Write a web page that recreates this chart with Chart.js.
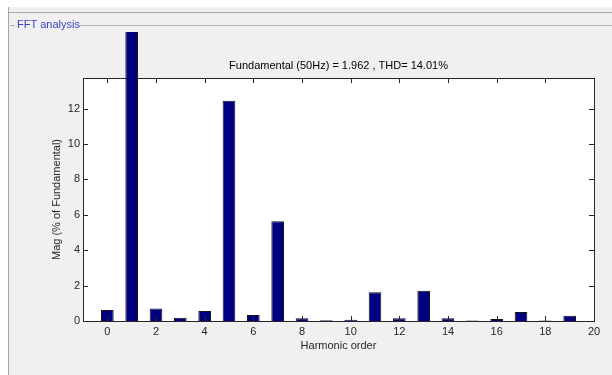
<!DOCTYPE html>
<html>
<head>
<meta charset="utf-8">
<script src="https://cdn.jsdelivr.net/npm/chart.js@4.4.1/dist/chart.umd.min.js"></script>
<style>
  html, body { margin: 0; padding: 0; background: #f0f0f0; }
  #wrap { width: 612px; height: 375px; position: relative; }
</style>
</head>
<body>
<div id="wrap"><canvas id="fft" width="612" height="375"></canvas></div>
<script>
// Harmonic spectrum, magnitudes in % of the fundamental
const harmonicOrder = [0, 1, 2, 3, 4, 5, 6, 7, 8, 9, 10, 11, 12, 13, 14, 15, 16, 17, 18, 19];
const magnitudePct  = [0.62, 100, 0.71, 0.19, 0.56, 12.45, 0.34, 5.63, 0.15, 0.04,
                       0.07, 1.62, 0.15, 1.71, 0.15, 0.03, 0.11, 0.51, 0.03, 0.30];
const xTickValues = [0, 2, 4, 6, 8, 10, 12, 14, 16, 18, 20];
const yTickValues = [0, 2, 4, 6, 8, 10, 12];
const fundamentalHz = 50;
const fundamentalMag = 1.962;
const thdPct = 14.01;

const titleText = 'Fundamental (' + fundamentalHz + 'Hz) = ' + fundamentalMag.toFixed(3) +
                  ' , THD= ' + thdPct.toFixed(2) + '%';

const FONT = '"Liberation Sans", Arial, Helvetica, sans-serif';
const AXIS_COLOR = '#262626';

// Window chrome: panel background, frame lines and the group-box caption
const panelChrome = {
  id: 'panelChrome',
  beforeDraw(chart) {
    const ctx = chart.ctx;
    ctx.save();
    ctx.fillStyle = '#ffffff';
    ctx.fillRect(0, 0, chart.width, chart.height);
    ctx.fillStyle = '#f0f0f0';
    ctx.fillRect(8, 7, chart.width - 8, chart.height - 7);
    ctx.strokeStyle = '#a8a8a8';
    ctx.lineWidth = 1;
    ctx.beginPath();
    ctx.moveTo(8.5, 7); ctx.lineTo(8.5, chart.height);
    ctx.moveTo(8, 12.5); ctx.lineTo(chart.width, 12.5);
    ctx.stroke();
    ctx.strokeStyle = '#b4b4b4';
    ctx.beginPath();
    ctx.moveTo(10, 25.5); ctx.lineTo(15, 25.5);
    ctx.moveTo(80, 25.5); ctx.lineTo(chart.width, 25.5);
    ctx.stroke();
    ctx.fillStyle = '#3c3cc8';
    ctx.font = '11px ' + FONT;
    ctx.textBaseline = 'middle';
    ctx.textAlign = 'left';
    ctx.fillText('FFT analysis', 17, 25);
    ctx.restore();
  },
  beforeDatasetsDraw(chart) {
    const {ctx, chartArea: a} = chart;
    ctx.save();
    ctx.fillStyle = '#ffffff';
    ctx.fillRect(a.left, a.top, a.right - a.left, a.bottom - a.top);
    ctx.strokeStyle = AXIS_COLOR;
    ctx.lineWidth = 1;
    ctx.strokeRect(Math.round(a.left) + 0.5, Math.round(a.top) + 0.5,
                   Math.round(a.right - a.left), Math.round(a.bottom - a.top));
    ctx.restore();
  },
  // inward tick marks on all four sides of the axes box
  afterDatasetsDraw(chart) {
    const {ctx, chartArea: a, scales} = chart;
    const len = 5;
    ctx.save();
    ctx.strokeStyle = AXIS_COLOR;
    ctx.lineWidth = 1;
    ctx.beginPath();
    xTickValues.forEach(v => {
      const px = Math.round(scales.x.getPixelForValue(v)) + 0.5;
      ctx.moveTo(px, a.bottom); ctx.lineTo(px, a.bottom - len);
      ctx.moveTo(px, a.top); ctx.lineTo(px, a.top + len);
    });
    yTickValues.forEach(v => {
      const py = Math.round(scales.y.getPixelForValue(v)) + 0.5;
      ctx.moveTo(a.left, py); ctx.lineTo(a.left + len, py);
      ctx.moveTo(a.right, py); ctx.lineTo(a.right - len, py);
    });
    ctx.stroke();
    ctx.restore();
  }
};

const fixedTicks = values => scale => { scale.ticks = values.map(v => ({value: v})); };

new Chart(document.getElementById('fft'), {
  type: 'bar',
  data: {
    datasets: [{
      data: harmonicOrder.map((h, i) => ({x: h, y: magnitudePct[i]})),
      backgroundColor: '#000080',
      borderColor: '#141414',
      borderWidth: 1,
      barPercentage: 0.52,
      categoryPercentage: 1,
      clip: {left: 0, top: 46, right: 0, bottom: 0}
    }]
  },
  options: {
    responsive: false,
    animation: false,
    devicePixelRatio: 1,
    layout: {padding: {left: 8, right: 18, top: 0, bottom: 0}},
    plugins: {
      legend: {display: false},
      tooltip: {enabled: false},
      title: {display: false}
    },
    scales: {
      x: {
        type: 'linear',
        position: 'bottom',
        offset: false,
        min: -1,
        max: 20,
        grid: {display: false, drawTicks: false, offset: false},
        border: {display: false},
        afterBuildTicks: fixedTicks(xTickValues),
        afterFit(scale) { scale.height = 54; },
        ticks: {
          color: AXIS_COLOR,
          padding: 4,
          maxRotation: 0,
          autoSkip: false,
          font: {family: FONT, size: 11}
        },
        title: {
          display: true,
          text: 'Harmonic order',
          color: AXIS_COLOR,
          font: {family: FONT, size: 11},
          padding: {top: 0, bottom: 22.7}
        }
      },
      xTop: {
        type: 'linear',
        position: 'top',
        offset: false,
        min: -1,
        max: 20,
        grid: {display: false, drawTicks: false},
        border: {display: false},
        ticks: {display: false},
        afterFit(scale) { scale.height = 78; },
        title: {
          display: true,
          text: titleText,
          color: '#000000',
          font: {family: FONT, size: 11},
          padding: {top: 59.4, bottom: 0}
        }
      },
      y: {
        type: 'linear',
        min: 0,
        max: 13.73,
        grid: {display: false, drawTicks: false},
        border: {display: false},
        afterBuildTicks: fixedTicks(yTickValues),
        afterFit(scale) { scale.width = 75; },
        ticks: {
          color: AXIS_COLOR,
          padding: 3,
          font: {family: FONT, size: 11}
        },
        title: {
          display: true,
          text: 'Mag (% of Fundamental)',
          color: AXIS_COLOR,
          font: {family: FONT, size: 11},
          padding: {top: 42.4, bottom: 0}
        }
      }
    }
  },
  plugins: [panelChrome]
});
</script>
</body>
</html>
